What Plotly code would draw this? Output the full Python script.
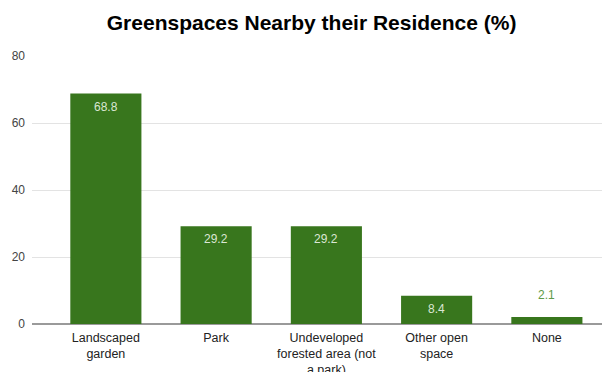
import plotly.graph_objects as go

# Share of respondents reporting each type of greenspace near home
categories = [
    "Landscaped<br>garden",
    "Park",
    "Undeveloped<br>forested area (not<br>a park)",
    "Other open<br>space",
    "None",
]
values = [68.8, 29.2, 29.2, 8.4, 2.1]
label_inside = [True, True, True, True, False]
y_ticks = [0, 20, 40, 60, 80]

bar_color = "#38761d"
font_family = "Liberation Sans, Arial"

x_pos = list(range(len(categories)))

fig = go.Figure(
    go.Bar(
        x=x_pos,
        y=values,
        marker=dict(color=bar_color, line=dict(width=0)),
        width=0.645,
        hoverinfo="y",
    )
)

# Value labels: inside near the top of tall bars, above the short one
for xi, v, inside in zip(x_pos, values, label_inside):
    fig.add_annotation(
        x=xi,
        y=v,
        text=f"{v:.1f}",
        showarrow=False,
        yanchor="middle",
        yshift=-13 if inside else 22,
        font=dict(
            family=font_family,
            size=12,
            color="#dbe7d4" if inside else "#5e9a48",
        ),
    )

fig.update_layout(
    width=611,
    height=372,
    margin=dict(l=32, r=9, t=56, b=48),
    paper_bgcolor="white",
    plot_bgcolor="white",
    showlegend=False,
    title=dict(
        text="<b>Greenspaces Nearby their Residence (%)</b>",
        x=0.51,
        xanchor="center",
        y=0.94,
        yanchor="middle",
        font=dict(family=font_family, size=21, color="#000000"),
    ),
    font=dict(family=font_family, size=12, color="#222222"),
)

fig.update_xaxes(
    tickmode="array",
    tickvals=x_pos,
    ticktext=categories,
    range=[-0.67, 4.5],
    showgrid=False,
    showline=False,
    ticks="",
    tickfont=dict(size=12.5, color="#222222"),
    ticklabelstandoff=4,
    automargin=False,
    fixedrange=True,
)

fig.update_yaxes(
    range=[0, 80],
    tickvals=y_ticks,
    showgrid=True,
    gridcolor="#e3e3e3",
    gridwidth=1,
    zeroline=True,
    zerolinecolor="#9a9a9a",
    zerolinewidth=2,
    ticks="",
    tickfont=dict(size=12, color="#444444"),
    ticklabelstandoff=6,
    automargin=False,
    fixedrange=True,
)

fig.write_html("out.html")
